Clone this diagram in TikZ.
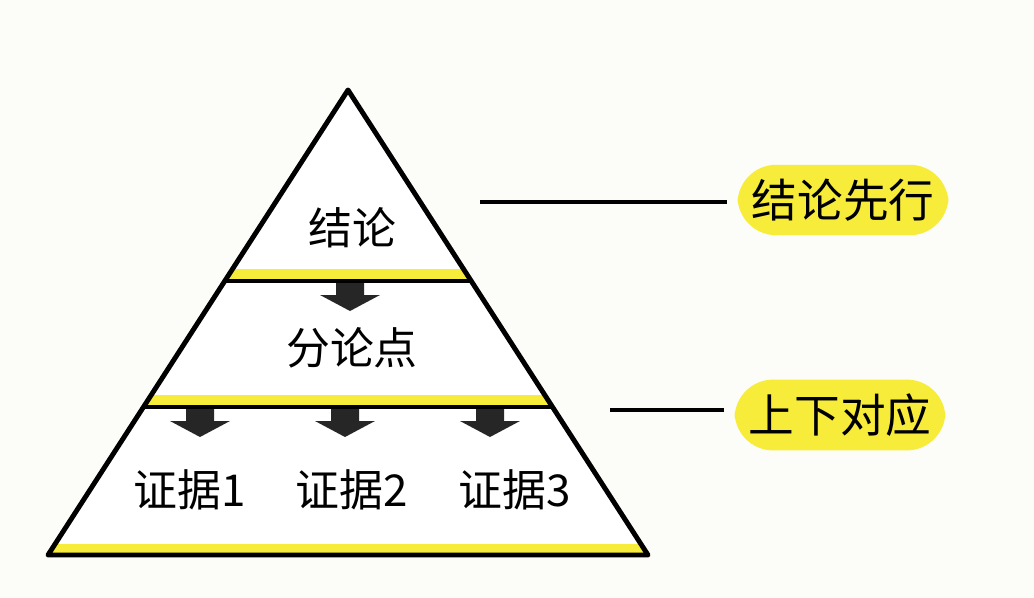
\documentclass[tikz,border=0pt]{standalone}
\usepackage{fontspec}
\newfontfamily\cjk{Noto Sans CJK SC}
\definecolor{hl}{HTML}{F7EC3A}
\definecolor{bg}{HTML}{FCFCF8}
\begin{document}
\begin{tikzpicture}[x=0.02cm,y=-0.02cm,
  lbl/.style={font=\cjk\fontsize{25}{28}\selectfont},
  hlbox/.style={fill=hl,rounded corners=22pt,inner sep=8pt,font=\cjk\fontsize{26}{30}\selectfont},
  darr/.style={fill=black!85}]
\fill[bg] (0,0) rectangle (1034,598);
\useasboundingbox (0,0) rectangle (1034,598);
\coordinate (apex) at (348,90);
\coordinate (bl) at (48,555);
\coordinate (br) at (648,555);
\fill[white] (apex)--(bl)--(br)--cycle;
\begin{scope}
\clip (apex)--(bl)--(br)--cycle;
\fill[hl] (0,269) rectangle (700,280);
\fill[hl] (0,395) rectangle (700,405);
\fill[hl] (0,544) rectangle (700,553);
\draw[line width=2.5pt] (0,281) -- (700,281);
\draw[line width=2.5pt] (0,407) -- (700,407);
\end{scope}
\draw[line width=2.8pt,line join=round] (apex)--(bl)--(br)--cycle;
\foreach \n/\cx/\ty in {a1/350/283,a2/200/409,a3/345/409,a4/490/409}{
  \fill[darr] (\cx-14,\ty) -- (\cx+14,\ty) -- (\cx+14,\ty+12) -- (\cx+30,\ty+12) -- (\cx,\ty+28) -- (\cx-30,\ty+12) -- (\cx-14,\ty+12) -- cycle;
}
\node[lbl] (t1) at (352,228) {结论};
\node[lbl] (t2) at (352,348) {分论点};
\node[lbl] (t3) at (190,490) {证据1};
\node[lbl] (t4) at (352,490) {证据2};
\node[lbl] (t5) at (515,490) {证据3};
\node[hlbox] (h1) at (843,200) {结论先行};
\node[hlbox] (h2) at (840,415) {上下对应};
\coordinate (l1) at (480,202);
\coordinate (l2) at (610,410);
\draw[line width=2.5pt,shorten >=6pt] (l1) -- (l1 -| h1.west);
\draw[line width=2.5pt,shorten >=6pt] (l2) -- (l2 -| h2.west);
\end{tikzpicture}
\end{document}
